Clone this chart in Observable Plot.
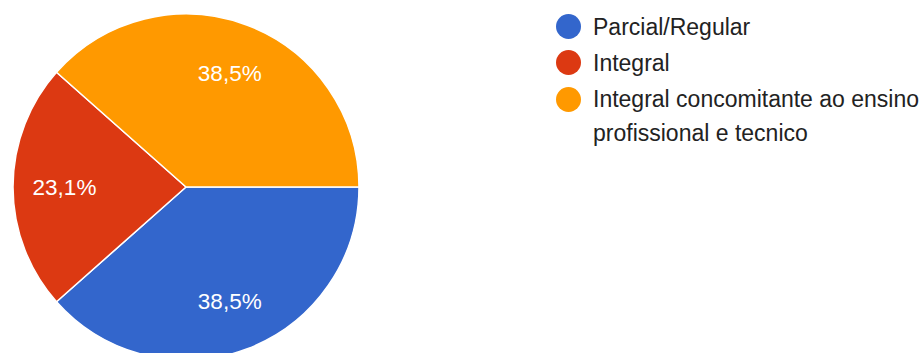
<!DOCTYPE html>
<html>
<head>
<meta charset="utf-8">
<script src="https://cdn.jsdelivr.net/npm/d3@7"></script>
<script src="https://cdn.jsdelivr.net/npm/@observablehq/plot@0.6"></script>
<style>
  html, body { margin: 0; padding: 0; background: #fff; }
  #wrap { position: relative; width: 923px; height: 353px; overflow: hidden; }
  #wrap svg { position: absolute; left: 0; top: 0; overflow: hidden; }
  #legend { position: absolute; left: 556px; top: 9.5px; width: 367px;
    font-family: "Liberation Sans", Arial, sans-serif; font-size: 23px; color: #222; }
  .item { display: flex; align-items: flex-start; margin-bottom: 2.3px; }
  .sw { flex: none; width: 25px; height: 25px; border-radius: 50%; margin-top: 4.5px; margin-right: 12px; }
  .lab { line-height: 34px; max-width: 332px; }
</style>
</head>
<body>
<div id="wrap"></div>
<script>
const categories = ["Parcial/Regular", "Integral", "Integral concomitante ao ensino profissional e tecnico"];
const values = [38.5, 23.1, 38.5];
const labels = ["38,5%", "23,1%", "38,5%"];
const colors = ["#3366cc", "#dc3912", "#ff9900"];

const data = categories.map((c, i) => ({category: c, value: values[i], label: labels[i]}));

const W = 923, H = 353;
const cx = 186, cy = 187, R = 173, labelR = 122;

const color = Plot.scale({color: {domain: categories, range: colors}});

const pie = d3.pie().value(d => d.value).sort(null)
  .startAngle(Math.PI / 2).endAngle(Math.PI / 2 + 2 * Math.PI);
const arcs = pie(data);
const arc = d3.arc().innerRadius(0).outerRadius(R);
const labelArc = d3.arc().innerRadius(labelR).outerRadius(labelR);

const labelData = arcs.map(a => {
  const [lx, ly] = labelArc.centroid(a);
  return {x: cx + lx, y: cy + ly, label: a.data.label};
});

function pieMark(index, scales, values, dimensions) {
  const g = d3.create("svg:g").attr("transform", `translate(${cx},${cy})`);
  g.selectAll("path").data(arcs).join("path")
    .attr("d", arc)
    .attr("fill", d => color.apply(d.data.category))
    .attr("stroke", "#fff")
    .attr("stroke-width", 1.5)
    .attr("stroke-linejoin", "round");
  return g.node();
}

const chart = Plot.plot({
  width: W,
  height: H,
  margin: 0,
  x: {type: "identity", axis: null},
  y: {type: "identity", axis: null},
  style: {fontFamily: "'Liberation Sans', Arial, sans-serif", background: "#fff"},
  marks: [
    pieMark,
    Plot.text(labelData, {x: "x", y: "y", text: "label", fill: "#fff", fontSize: 22.5, textAnchor: "middle", lineAnchor: "middle"})
  ]
});

const wrap = document.getElementById("wrap");
wrap.appendChild(chart);

const legend = document.createElement("div");
legend.id = "legend";
categories.forEach(c => {
  const item = document.createElement("div");
  item.className = "item";
  const sw = document.createElement("div");
  sw.className = "sw";
  sw.style.background = color.apply(c);
  const lab = document.createElement("div");
  lab.className = "lab";
  lab.textContent = c;
  item.appendChild(sw);
  item.appendChild(lab);
  legend.appendChild(item);
});
wrap.appendChild(legend);
</script>
</body>
</html>
